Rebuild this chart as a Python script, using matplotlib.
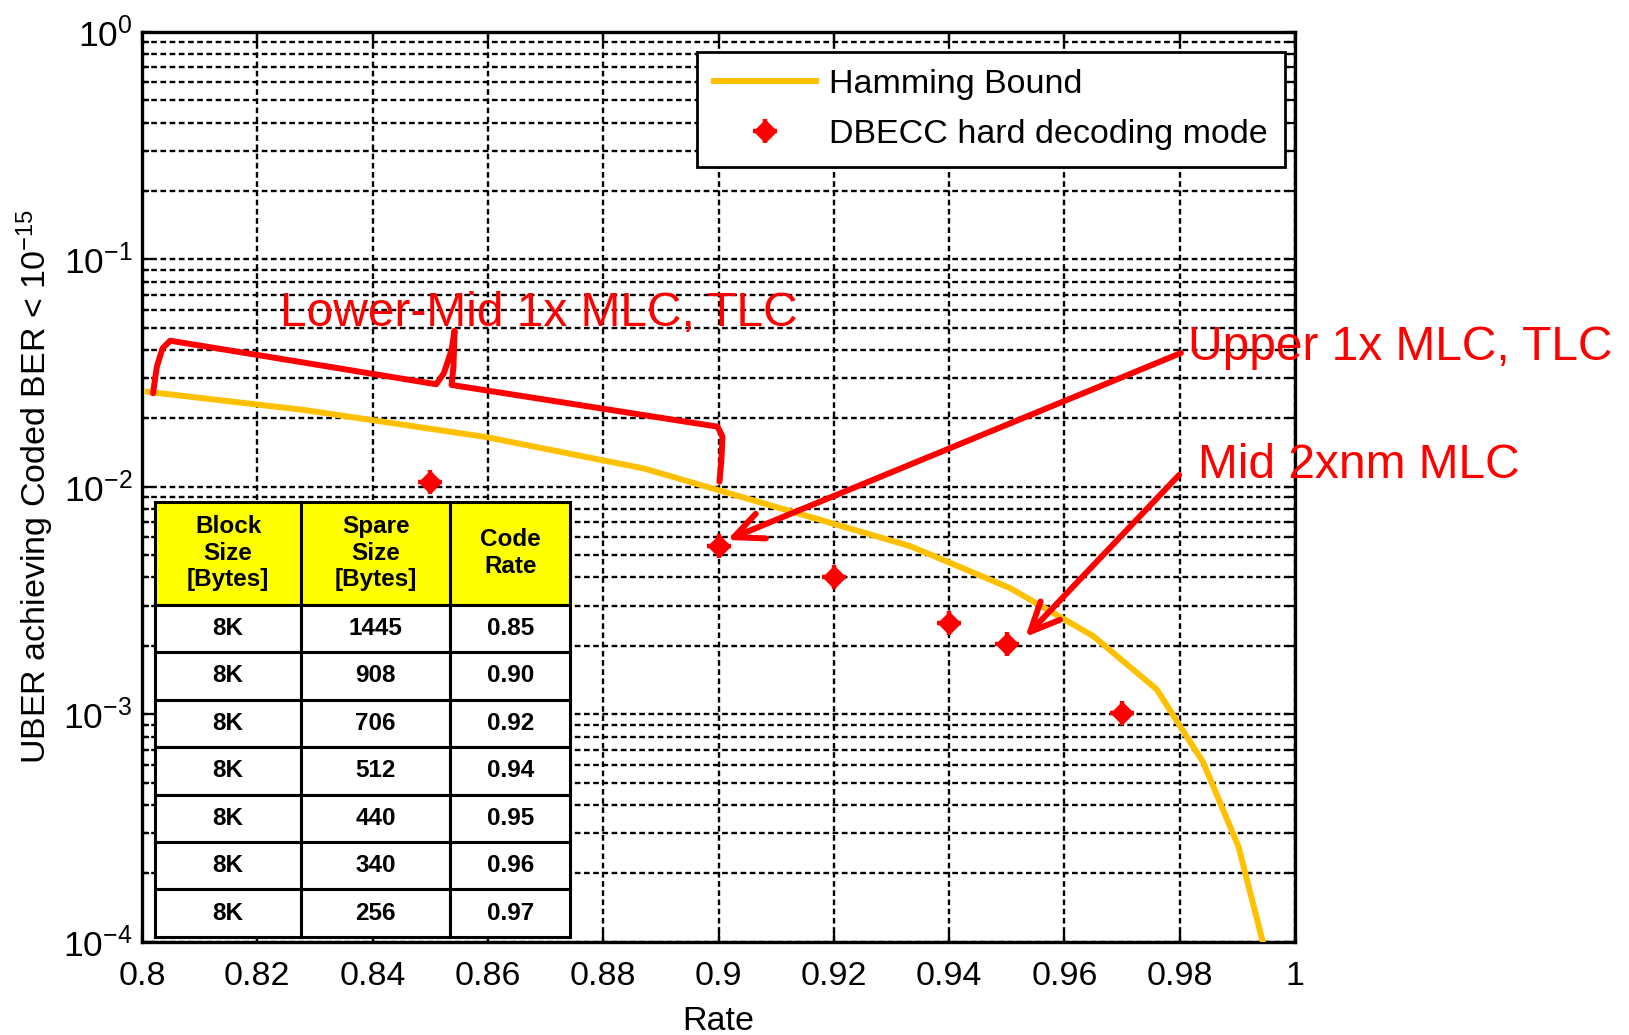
import matplotlib
matplotlib.use("Agg")
import matplotlib.pyplot as plt
from matplotlib.legend_handler import HandlerTuple
from matplotlib.lines import Line2D
from matplotlib.ticker import FixedLocator, FuncFormatter, LogLocator, NullFormatter

plt.rcParams["font.family"] = ["Liberation Sans", "DejaVu Sans"]
plt.rcParams["mathtext.fontset"] = "custom"
plt.rcParams["mathtext.rm"] = "Liberation Sans"
plt.rcParams["mathtext.it"] = "Liberation Sans:italic"
plt.rcParams["mathtext.bf"] = "Liberation Sans:bold"
plt.rcParams["mathtext.default"] = "regular"

# ── data ──────────────────────────────────────────────────────────────────────
hamming_rate = [0.801, 0.8281, 0.8599, 0.8871, 0.9332, 0.9506, 0.965, 0.976,
                0.9841, 0.9902, 0.9944]
hamming_uber = [0.0262, 0.0218, 0.01654, 0.01205, 0.0055, 0.00359, 0.00221,
                0.00129, 0.000614, 0.000262, 0.0001]

dbecc_rate = [0.85, 0.90, 0.92, 0.94, 0.95, 0.97]
dbecc_uber = [0.01055, 0.0055, 0.0040, 0.00253, 0.00204, 0.00101]

table_header = ["Block\nSize\n[Bytes]", "Spare\nSize\n[Bytes]", "Code\nRate"]
table_block = ["8K", "8K", "8K", "8K", "8K", "8K", "8K"]
table_spare = ["1445", "908", "706", "512", "440", "340", "256"]
table_code_rate = ["0.85", "0.90", "0.92", "0.94", "0.95", "0.96", "0.97"]

# brace over the lower-mid region (rate, uber)
brace_rate = [0.80191, 0.80257, 0.80356, 0.80489, 0.85103, 0.85235, 0.85369,
              0.85421, 0.85402, 0.85369, 0.89983, 0.90068, 0.90049, 0.90016]
brace_uber = [0.02582, 0.03379, 0.04072, 0.04395, 0.02828, 0.03161, 0.04002,
              0.04864, 0.03379, 0.02808, 0.01841, 0.01664, 0.01314, 0.01055]

ORANGE = "#FFC000"
RED = "#FF0000"

# ── figure ────────────────────────────────────────────────────────────────────
fig = plt.figure(figsize=(16.29, 10.35), dpi=100)
ax = fig.add_axes([0.0872, 0.0899, 0.7078, 0.8792])

ax.plot(hamming_rate, hamming_uber, color=ORANGE, lw=4.3, zorder=4,
        solid_joinstyle="miter")
m_d, = ax.plot(dbecc_rate, dbecc_uber, ls="none", marker="D", ms=11,
               color=RED, mec=RED, zorder=6)
m_p, = ax.plot(dbecc_rate, dbecc_uber, ls="none", marker="+", ms=17, mew=3.2,
               color=RED, zorder=6)

ax.set_yscale("log")
ax.set_xlim(0.8, 1.0)
ax.set_ylim(1e-4, 1)

ax.xaxis.set_major_locator(FixedLocator([0.8 + 0.02 * i for i in range(11)]))
ax.xaxis.set_major_formatter(FuncFormatter(lambda v, p: f"{v:g}"))
ax.yaxis.set_major_locator(LogLocator(base=10, numticks=10))
ax.yaxis.set_minor_locator(LogLocator(base=10, subs=range(2, 10), numticks=20))
ax.yaxis.set_minor_formatter(NullFormatter())

dash = (0, (2.4, 1.5))
ax.grid(True, which="major", axis="both", color="k", ls=dash, lw=1.7)
ax.grid(True, which="minor", axis="y", color="k", ls=dash, lw=1.7)

ax.tick_params(which="both", direction="in", top=True, right=True, width=1.6)
ax.tick_params(which="major", length=8)
ax.tick_params(which="minor", length=5)
ax.tick_params(axis="x", pad=14, labelsize=24.5)
ax.tick_params(axis="y", pad=7, labelsize=25.5)
for s in ax.spines.values():
    s.set_linewidth(2.4)

ax.set_xlabel("Rate", fontsize=24.5, labelpad=10)
ax.set_ylabel("UBER achieving Coded BER < $10^{-15}$", fontsize=24.5)
ax.yaxis.set_label_coords(-0.075, 0.5)

# legend
h_line = Line2D([], [], color=ORANGE, lw=4.3)
leg = ax.legend([h_line, (m_d, m_p)],
                ["Hamming Bound", "DBECC hard decoding mode"],
                handler_map={tuple: HandlerTuple(ndivide=1)},
                loc="upper right", bbox_to_anchor=(0.9913, 0.978),
                borderaxespad=0, fontsize=24.5, fancybox=False, framealpha=1,
                edgecolor="k", handlelength=3.0, handletextpad=0.4,
                labelspacing=0.55, borderpad=0.5)
leg.get_frame().set_linewidth(2.0)
leg.set_zorder(10)

# table
rows = list(zip(table_block, table_spare, table_code_rate))
tbl = ax.table(cellText=rows, colLabels=table_header, cellLoc="center",
               colWidths=[146, 149, 120], bbox=[0.0113, 0.0055, 0.36, 0.4785])
tbl.auto_set_font_size(False)
tbl.set_zorder(8)
for (r, c), cell in tbl.get_celld().items():
    cell.set_edgecolor("k")
    cell.set_linewidth(2.2)
    cell.get_text().set_fontweight("bold")
    cell.get_text().set_fontsize(17.5)
    if r == 0:
        cell.set_height(103)
        cell.set_facecolor("#FFFF00")
    else:
        cell.set_height(47.4)
        cell.set_facecolor("white")

# annotations
ax.plot(brace_rate, brace_uber, color=RED, lw=4.3, solid_joinstyle="round",
        solid_capstyle="round", zorder=7, clip_on=False)
ax.text(0.82394, 0.05101, "Lower-Mid 1x MLC, TLC", color=RED, fontsize=34.5,
        va="baseline", ha="left", zorder=9)
ax.text(0.98144, 0.03597, "Upper 1x MLC, TLC", color=RED, fontsize=34.5,
        va="baseline", ha="left", zorder=9)
ax.text(0.98318, 0.01092, "Mid 2xnm MLC", color=RED, fontsize=34.5,
        va="baseline", ha="left", zorder=9)

arrow = dict(arrowstyle="->,head_length=1.05,head_width=0.48", color=RED,
             lw=4.3, mutation_scale=20, shrinkA=0, shrinkB=0)
ax.annotate("", xy=(0.9015, 0.00585), xytext=(0.9802, 0.0388),
            arrowprops=arrow, zorder=9, annotation_clip=False)
ax.annotate("", xy=(0.9532, 0.00219), xytext=(0.9799, 0.0113),
            arrowprops=arrow, zorder=9, annotation_clip=False)

fig.savefig("out.png", dpi=100)
